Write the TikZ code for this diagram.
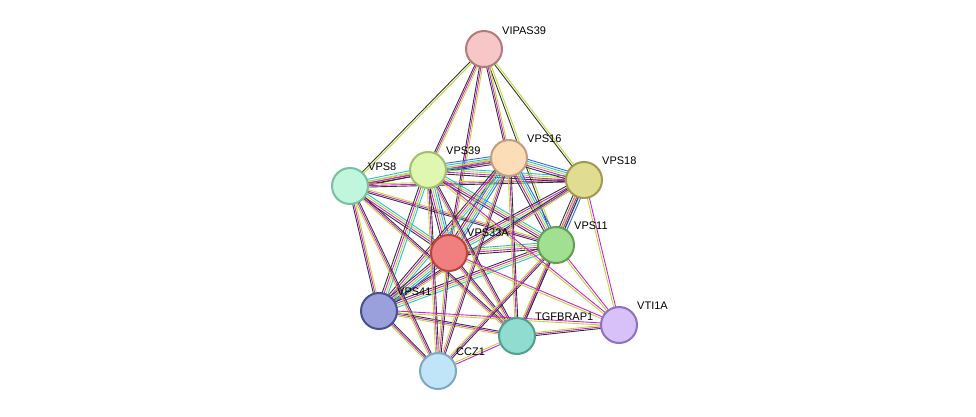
\documentclass[tikz,border=0pt]{standalone}
\usepackage{fontspec}
\setmainfont{Liberation Sans}
\usetikzlibrary{calc}
\definecolor{ek}{HTML}{333333}
\definecolor{em}{HTML}{D020D0}
\definecolor{ey}{HTML}{B8D830}
\definecolor{ec}{HTML}{20C0E0}
\definecolor{eb}{HTML}{4060E0}
\newcommand\edg[3]{\foreach \c/\o in #3{\draw[\c,line width=0.9pt] ($(#1)!\o pt!90:(#2)$) -- ($(#2)!\o pt!-90:(#1)$);}}
\tikzset{prot/.style={circle,minimum size=36pt,inner sep=0pt,line width=2pt},
lab/.style={font=\fontsize{11}{12}\selectfont,inner sep=1pt}}
\begin{document}
\begin{tikzpicture}[x=1pt,y=-1pt]
\useasboundingbox (0,0) rectangle (976,417);
\coordinate (VIPAS39) at (484,49);
\coordinate (VPS8) at (350,186);
\coordinate (VPS39) at (428,170);
\coordinate (VPS16) at (509,158);
\coordinate (VPS18) at (584,180);
\coordinate (VPS33A) at (449,253);
\coordinate (VPS11) at (556,245);
\coordinate (VPS41) at (379,311);
\coordinate (TGF) at (517,336);
\coordinate (VTI1A) at (619,325);
\coordinate (CCZ1) at (438,371);
\def\full{ek/-3,em/-1,ey/1,ec/3}
\def\fullb{ek/-4,em/-2,ey/0,ec/2,eb/4}
\def\km{ek/-1.5,em/0,ey/1.5}
\def\my{em/-1,ey/1}
\def\ky{ek/-1,ey/1}
\foreach \b in {VPS8,VPS18,VPS11}{\edg{VIPAS39}{\b}{\ky}}
\foreach \b in {VPS39,VPS16,VPS33A}{\edg{VIPAS39}{\b}{\km}}
\edg{VPS8}{VPS39}{\full}\edg{VPS8}{VPS16}{\km}\edg{VPS8}{VPS18}{\km}
\edg{VPS8}{VPS33A}{\full}\edg{VPS8}{VPS11}{\km}\edg{VPS8}{VPS41}{\km}
\edg{VPS39}{VPS16}{\fullb}\edg{VPS39}{VPS18}{\full}\edg{VPS39}{VPS33A}{\fullb}
\edg{VPS39}{VPS11}{\full}\edg{VPS39}{VPS41}{\full}
\edg{VPS16}{VPS18}{\fullb}\edg{VPS16}{VPS33A}{\fullb}\edg{VPS16}{VPS11}{\fullb}\edg{VPS16}{VPS41}{\full}
\edg{VPS18}{VPS33A}{\full}\edg{VPS18}{VPS11}{\fullb}\edg{VPS18}{VPS41}{\km}
\edg{VPS33A}{VPS11}{\full}\edg{VPS33A}{VPS41}{\fullb}
\edg{VPS11}{VPS41}{\full}
\foreach \b in {VPS8,VPS39,VPS16,VPS18,VPS33A,VPS11,VPS41}{\edg{TGF}{\b}{\km}}
\foreach \b in {VPS8,VPS39,VPS16,VPS33A,VPS11,VPS41}{\edg{CCZ1}{\b}{\km}}
\edg{CCZ1}{TGF}{\my}
\edg{TGF}{VTI1A}{\km}
\foreach \b in {VPS18,VPS33A,VPS11,VPS41,VPS39}{\edg{VTI1A}{\b}{\my}}
\node[prot,fill={rgb,255:red,247;green,198;blue,198},draw={rgb,255:red,176;green,124;blue,124}] (nVIPAS39) at (VIPAS39) {};
\node[prot,fill={rgb,255:red,192;green,247;blue,220},draw={rgb,255:red,122;green,191;blue,160}] (nVPS8) at (VPS8) {};
\node[prot,fill={rgb,255:red,224;green,247;blue,176},draw={rgb,255:red,160;green,192;blue,112}] (nVPS39) at (VPS39) {};
\node[prot,fill={rgb,255:red,253;green,220;blue,184},draw={rgb,255:red,192;green,160;blue,128}] (nVPS16) at (VPS16) {};
\node[prot,fill={rgb,255:red,224;green,220;blue,144},draw={rgb,255:red,160;green,154;blue,80}] (nVPS18) at (VPS18) {};
\node[prot,fill={rgb,255:red,240;green,128;blue,128},draw={rgb,255:red,192;green,64;blue,64}] (nVPS33A) at (VPS33A) {};
\node[prot,fill={rgb,255:red,160;green,224;blue,144},draw={rgb,255:red,96;green,160;blue,80}] (nVPS11) at (VPS11) {};
\node[prot,fill={rgb,255:red,154;green,160;blue,220},draw={rgb,255:red,74;green,80;blue,144}] (nVPS41) at (VPS41) {};
\node[prot,fill={rgb,255:red,144;green,220;blue,208},draw={rgb,255:red,80;green,160;blue,144}] (nTGF) at (TGF) {};
\node[prot,fill={rgb,255:red,216;green,192;blue,248},draw={rgb,255:red,144;green,112;blue,192}] (nVTI1A) at (VTI1A) {};
\node[prot,fill={rgb,255:red,192;green,228;blue,248},draw={rgb,255:red,128;green,168;blue,192}] (nCCZ1) at (CCZ1) {};
\node[lab,anchor=south west] at (501,36) {VIPAS39};
\node[lab,anchor=south west] at (367,172) {VPS8};
\node[lab,anchor=south west] at (445,156) {VPS39};
\node[lab,anchor=south west] at (526,144) {VPS16};
\node[lab,anchor=south west] at (601,166) {VPS18};
\node[lab,anchor=south west] at (466,238) {VPS33A};
\node[lab,anchor=south west] at (573,231) {VPS11};
\node[lab,anchor=south west] at (396,297) {VPS41};
\node[lab,anchor=south west] at (534,322) {TGFBRAP1};
\node[lab,anchor=south west] at (636,311) {VTI1A};
\node[lab,anchor=south west] at (455,357) {CCZ1};
\end{tikzpicture}
\end{document}
